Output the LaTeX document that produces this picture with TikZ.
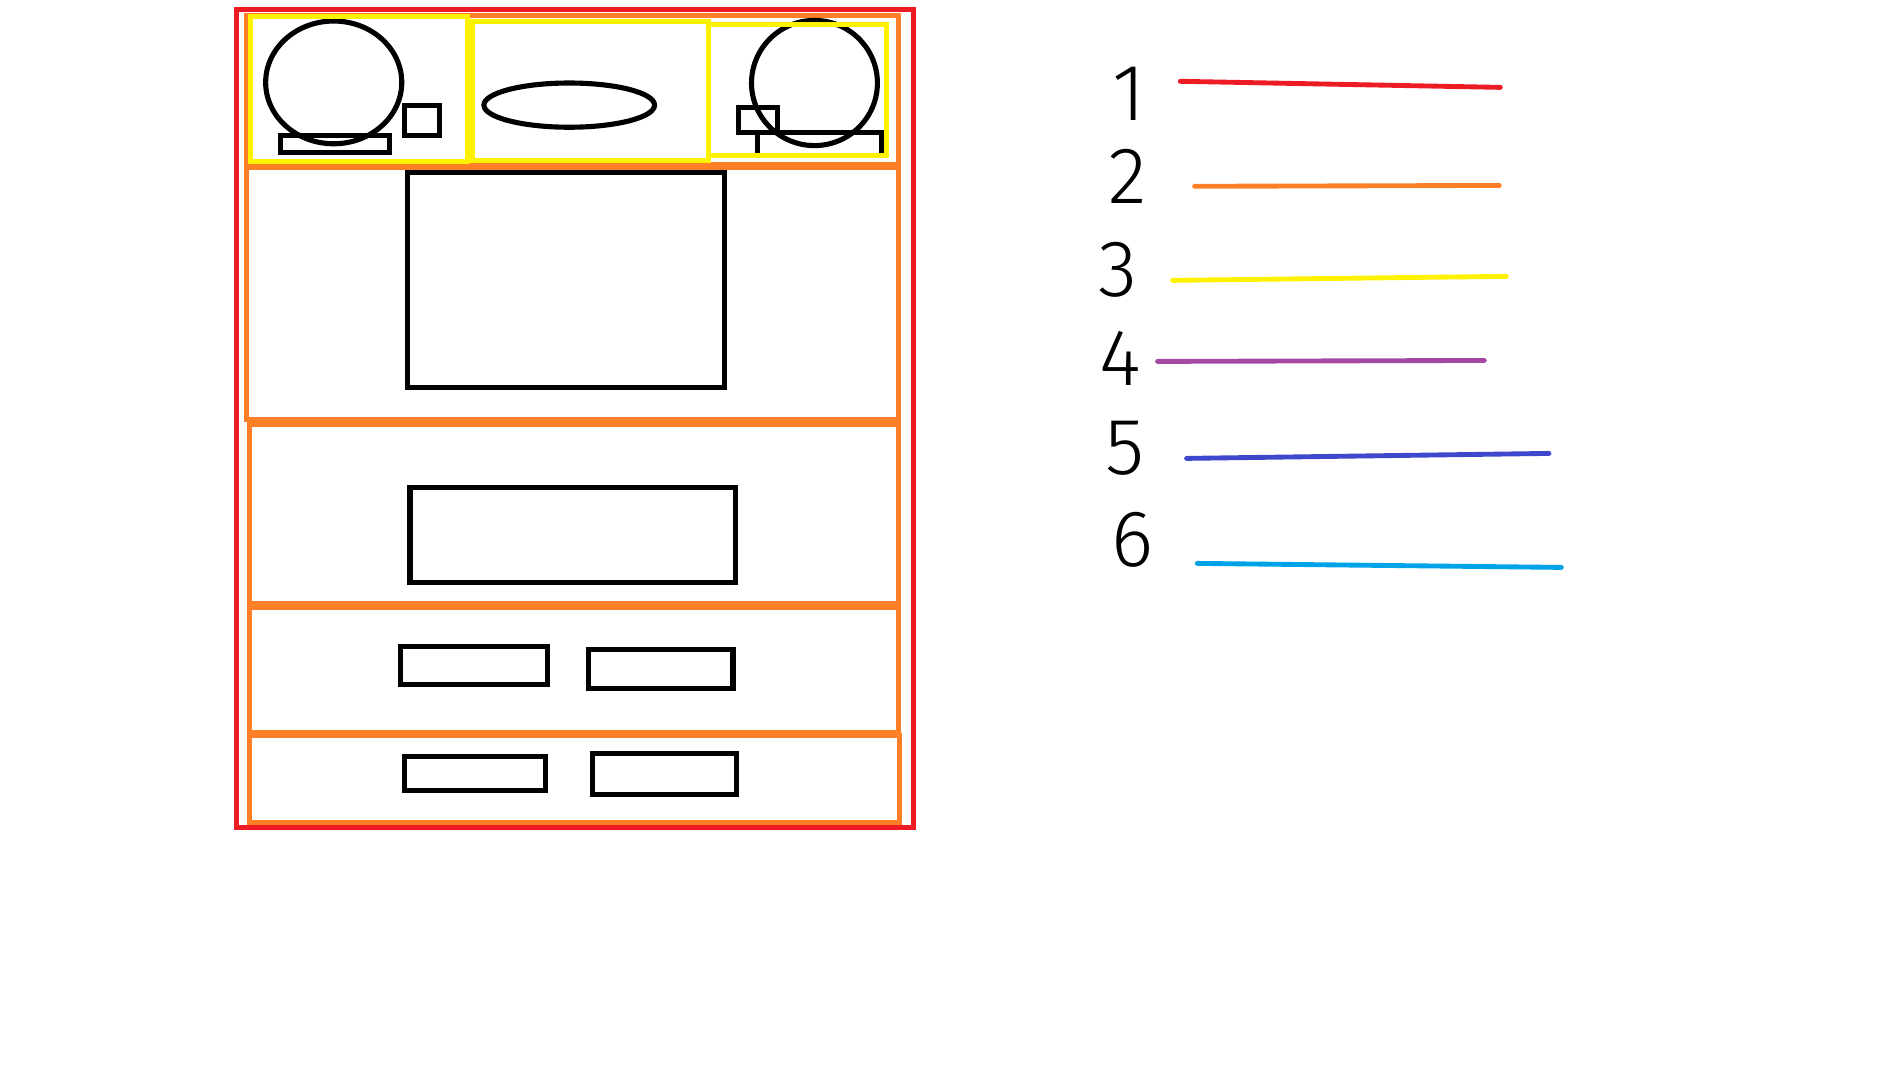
\documentclass[tikz,border=0pt]{standalone}
\usepackage{fontspec}
\newfontfamily\digitfont{Fira Sans}[UprightFont={* Light}]
\definecolor{pred}{HTML}{ED1C24}
\definecolor{porange}{HTML}{FF7F27}
\definecolor{pyellow}{HTML}{FFF200}
\definecolor{ppurple}{HTML}{A349A4}
\definecolor{pblue}{HTML}{3F48CC}
\definecolor{pcyan}{HTML}{00A2E8}
\begin{document}
\begin{tikzpicture}[x=1pt,y=-1pt,
  frame/.style={line width=4pt},
  section/.style={draw=porange,line width=4.2pt},
  zone/.style={draw=pyellow,line width=4pt},
  item/.style={draw=black,line width=4.2pt},
  keyline/.style={line width=4pt,line cap=round},
  digit/.style={inner sep=0pt,font=\digitfont\fontsize{66}{66}\selectfont}]
\useasboundingbox (0,0) rectangle (1561,889);
% orange sections
\draw[section] (203,12.5) rectangle (739.5,135.5);
\draw[section] (202.5,137.5) rectangle (739.5,345.5);
\draw[section] (205,349) rectangle (739.5,496.5);
\draw[section] (205,499.5) rectangle (739.5,602.7);
\draw[section] (205,605.3) rectangle (740.5,677);
% black items, top section
\draw[item] (274.6,67.8) ellipse [x radius=56, y radius=50.5];
\draw[item] (332.5,86.7) rectangle (361.3,111.3);
\draw[item] (231,111.7) rectangle (320.3,125.3);
\draw[item] (468.4,86.5) ellipse [x radius=70.2, y radius=18.2];
\draw[item] (670.2,68.3) ellipse [x radius=51.8, y radius=51.5];
\draw[item] (608,88.1) rectangle (639.5,109.3);
\draw[item] (623.6,127) -- (623.6,109) -- (725.5,109) -- (725.5,127);
% black items, lower sections
\draw[item] (335.6,142.2) rectangle (596,318.7);
\draw[item] (337.4,401) rectangle (605,479.2);
\draw[item] (329.6,531.7) rectangle (450.8,563.5);
\draw[item] (484.6,534.2) rectangle (603.2,566.8);
\draw[item] (332.9,622.3) rectangle (449,650.7);
\draw[item] (487.9,619.8) rectangle (605.8,653.6);
% yellow zones
\draw[zone] (206.4,13.7) rectangle (384.7,133);
\draw[zone] (389,18) rectangle (583,132);
\draw[zone] (583,20) rectangle (729.7,128.3);
% red outer frame
\draw[draw=pred,frame] (194.8,7.8) rectangle (752,681);
% legend
\node[digit] (n1) at (929,77) {1};
\node[digit] (n2) at (928,145) {2};
\node[digit] (n3) at (920,222) {3};
\node[digit] (n4) at (922,295) {4};
\node[digit] (n5) at (926,369) {5};
\node[digit] (n6) at (932,444) {6};
\draw[keyline,pred] (971.2,66.9) -- (1234.6,71.9);
\draw[keyline,porange] (983,153.3) -- (1233.7,152.6);
\draw[keyline,pyellow] (964.9,230.7) -- (1239.5,227.4);
\draw[keyline,ppurple] (952.5,297.4) -- (1221.4,296.6);
\draw[keyline,pblue] (976.4,377.2) -- (1274.6,373.1);
\draw[keyline,pcyan] (985.2,463.6) -- (1284.8,466.9);
\end{tikzpicture}
\end{document}
